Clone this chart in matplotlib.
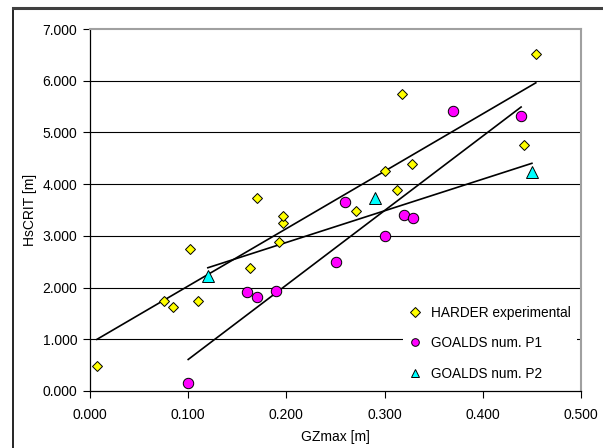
import numpy as np
import matplotlib
matplotlib.use('Agg')
import matplotlib.pyplot as plt
from matplotlib.lines import Line2D

plt.rcParams['font.family'] = ['Liberation Sans', 'DejaVu Sans']

# HARDER experimental
harder_x = [0.007, 0.075, 0.085, 0.102, 0.110, 0.163, 0.170, 0.192, 0.197, 0.197,
            0.271, 0.300, 0.313, 0.318, 0.328, 0.442, 0.454]
harder_y = [0.49, 1.75, 1.62, 2.74, 1.75, 2.37, 3.74, 2.88, 3.25, 3.38,
            3.49, 4.25, 3.88, 5.75, 4.38, 4.75, 6.51]

# GOALDS num. P1
p1_x = [0.100, 0.160, 0.170, 0.189, 0.250, 0.260, 0.300, 0.320, 0.329, 0.370, 0.439]
p1_y = [0.16, 1.91, 1.81, 1.93, 2.49, 3.66, 3.00, 3.40, 3.35, 5.41, 5.32]

# GOALDS num. P2
p2_x = [0.120, 0.290, 0.450]
p2_y = [2.23, 3.74, 4.24]

fig = plt.figure(figsize=(6.03, 4.48), dpi=100)
ax = fig.add_axes([90 / 603, 1 - 391 / 448, 491 / 603, 362 / 448])

# horizontal gridlines
for yv in range(1, 7):
    ax.axhline(yv, color='black', lw=0.8, zorder=1)

# linear trendlines
for xs, ys in [(harder_x, harder_y), (p1_x, p1_y), (p2_x, p2_y)]:
    k, b = np.polyfit(xs, ys, 1)
    xx = np.array([min(xs), max(xs)])
    ax.plot(xx, k * xx + b, color='black', lw=1.2, zorder=2)

ax.plot(harder_x, harder_y, ls='none', marker='D', ms=5.5, mfc='#FFFF00',
        mec='black', mew=0.7, label='HARDER experimental', zorder=3)
ax.plot(p1_x, p1_y, ls='none', marker='o', ms=7.5, mfc='#FF00FF',
        mec='black', mew=0.7, label='GOALDS num. P1', zorder=3)
ax.plot(p2_x, p2_y, ls='none', marker='^', ms=8, mfc='#00FFFF',
        mec='black', mew=0.7, label='GOALDS num. P2', zorder=3)

ax.set_xlim(0, 0.5)
ax.set_ylim(0, 7)
ax.set_xticks(np.arange(0, 0.51, 0.1))
ax.set_yticks(np.arange(0, 7.1, 1))
ax.set_xticklabels([f'{v:.3f}' for v in np.arange(0, 0.51, 0.1)])
ax.set_yticklabels([f'{v:.3f}' for v in np.arange(0, 7.1, 1)])
ax.tick_params(direction='out', length=5, width=0.8, labelsize=10)
ax.tick_params(axis='y', pad=4)
ax.tick_params(axis='x', pad=7)

ax.set_xlabel('GZmax [m]', fontsize=10, labelpad=6)
ax.set_ylabel('HsCRIT [m]', fontsize=10, labelpad=4)

for s in ['left', 'bottom']:
    ax.spines[s].set_color('black')
    ax.spines[s].set_linewidth(0.9)
for s in ['top', 'right']:
    ax.spines[s].set_color('#A0A0A0')
    ax.spines[s].set_linewidth(1.5)

leg = ax.legend(loc='lower right', bbox_to_anchor=(1.005, -0.005), frameon=True,
                fancybox=False, edgecolor='none', facecolor='white', framealpha=1,
                fontsize=9.8, labelspacing=1.2, handlelength=1.0, handletextpad=0.7,
                borderpad=0.4)
for h in leg.legend_handles:
    h.set_markersize(5.5)

# outer chart frame (left and top edge)
fig.add_artist(Line2D([13 / 603, 13 / 603], [0, 1 - 8 / 448], color='black', lw=1.2))
fig.add_artist(Line2D([13 / 603, 1.0], [1 - 8 / 448, 1 - 8 / 448], color='#404040', lw=2.2))

fig.savefig('out.png', dpi=100)
